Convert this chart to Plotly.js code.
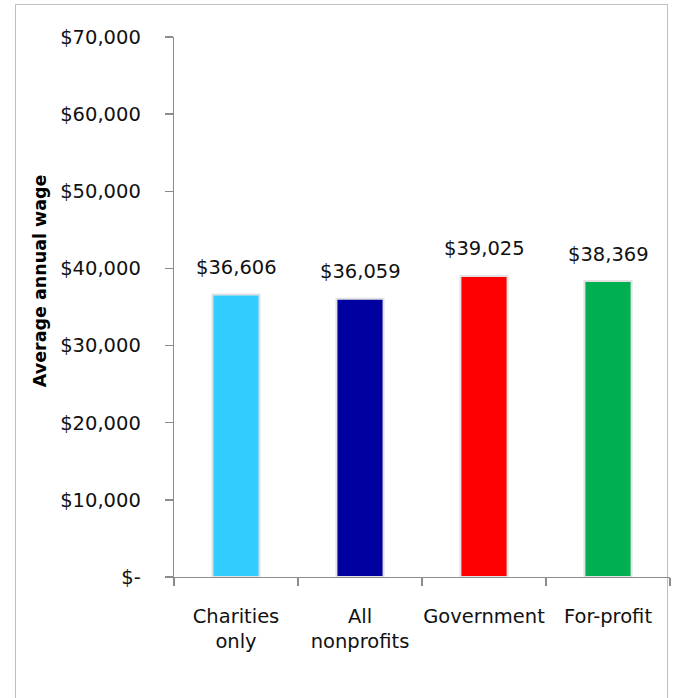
<!DOCTYPE html>
<html>
<head>
<meta charset="utf-8">
<script src="https://cdn.plot.ly/plotly-3.0.1.min.js"></script>
<style>
  html, body { margin: 0; padding: 0; background: #ffffff; }
  #frame { position: absolute; left: 15px; top: 4px; width: 653px; height: 720px; border: 1px solid #c0c0c0; box-sizing: border-box; }
  #chart { position: absolute; left: 0; top: 0; width: 674px; height: 698px; }
</style>
</head>
<body>
<div id="frame"></div>
<div id="chart"></div>
<script>
const categories = ["Charities<br>only", "All<br>nonprofits", "Government", "For-profit"];
const wages = [36606, 36059, 39025, 38369];
const barColors = ["#33CCFF", "#0000A0", "#FF0000", "#00B050"];
const yTickValues = [0, 10000, 20000, 30000, 40000, 50000, 60000, 70000];
const yTickLabels = ["$-", "$10,000", "$20,000", "$30,000", "$40,000", "$50,000", "$60,000", "$70,000"];
const yTitle = "Average annual wage";

const fmt = v => "$" + v.toLocaleString("en-US");
const font = "DejaVu Sans, sans-serif";

const trace = {
  type: "bar",
  x: categories,
  y: wages,
  width: 0.38,
  marker: { color: barColors, line: { color: "#e2e2e2", width: 2 } },
  hoverinfo: "none"
};

const annotations = categories.map((c, i) => ({
  x: c, y: wages[i], xref: "x", yref: "y",
  text: fmt(wages[i]), showarrow: false,
  yanchor: "middle", yshift: 27,
  font: { family: font, size: 19.5, color: "#111111" }
}));
annotations.push({
  xref: "paper", yref: "paper", x: -0.27, y: 0.548,
  text: "<b>" + yTitle + "</b>", textangle: -90, showarrow: false,
  xanchor: "center", yanchor: "middle",
  font: { family: font, size: 17.5, color: "#000000" }
});

const layout = {
  width: 674, height: 698,
  margin: { l: 174, r: 4, t: 37, b: 121 },
  paper_bgcolor: "rgba(0,0,0,0)",
  plot_bgcolor: "rgba(0,0,0,0)",
  showlegend: false,
  bargap: 0.62,
  xaxis: {
    type: "category",
    showline: true, linecolor: "#8c8c8c", linewidth: 1.3,
    ticks: "outside", ticklen: 8, tickcolor: "#8c8c8c", tickwidth: 1.3,
    tickson: "boundaries",
    tickangle: 0,
    showgrid: false, zeroline: false,
    ticklabelstandoff: 21,
    tickfont: { family: font, size: 19.5, color: "#111111" }
  },
  yaxis: {
    range: [0, 70000],
    tickvals: yTickValues, ticktext: yTickLabels,
    showline: true, linecolor: "#8c8c8c", linewidth: 1.3,
    ticks: "outside", ticklen: 8, tickcolor: "#8c8c8c", tickwidth: 1.3,
    showgrid: false, zeroline: false,
    ticklabelstandoff: 20,
    tickfont: { family: font, size: 19.5, color: "#111111" }
  },
  annotations: annotations
};

Plotly.newPlot("chart", [trace], layout, { staticPlot: true, displayModeBar: false });
</script>
</body>
</html>
